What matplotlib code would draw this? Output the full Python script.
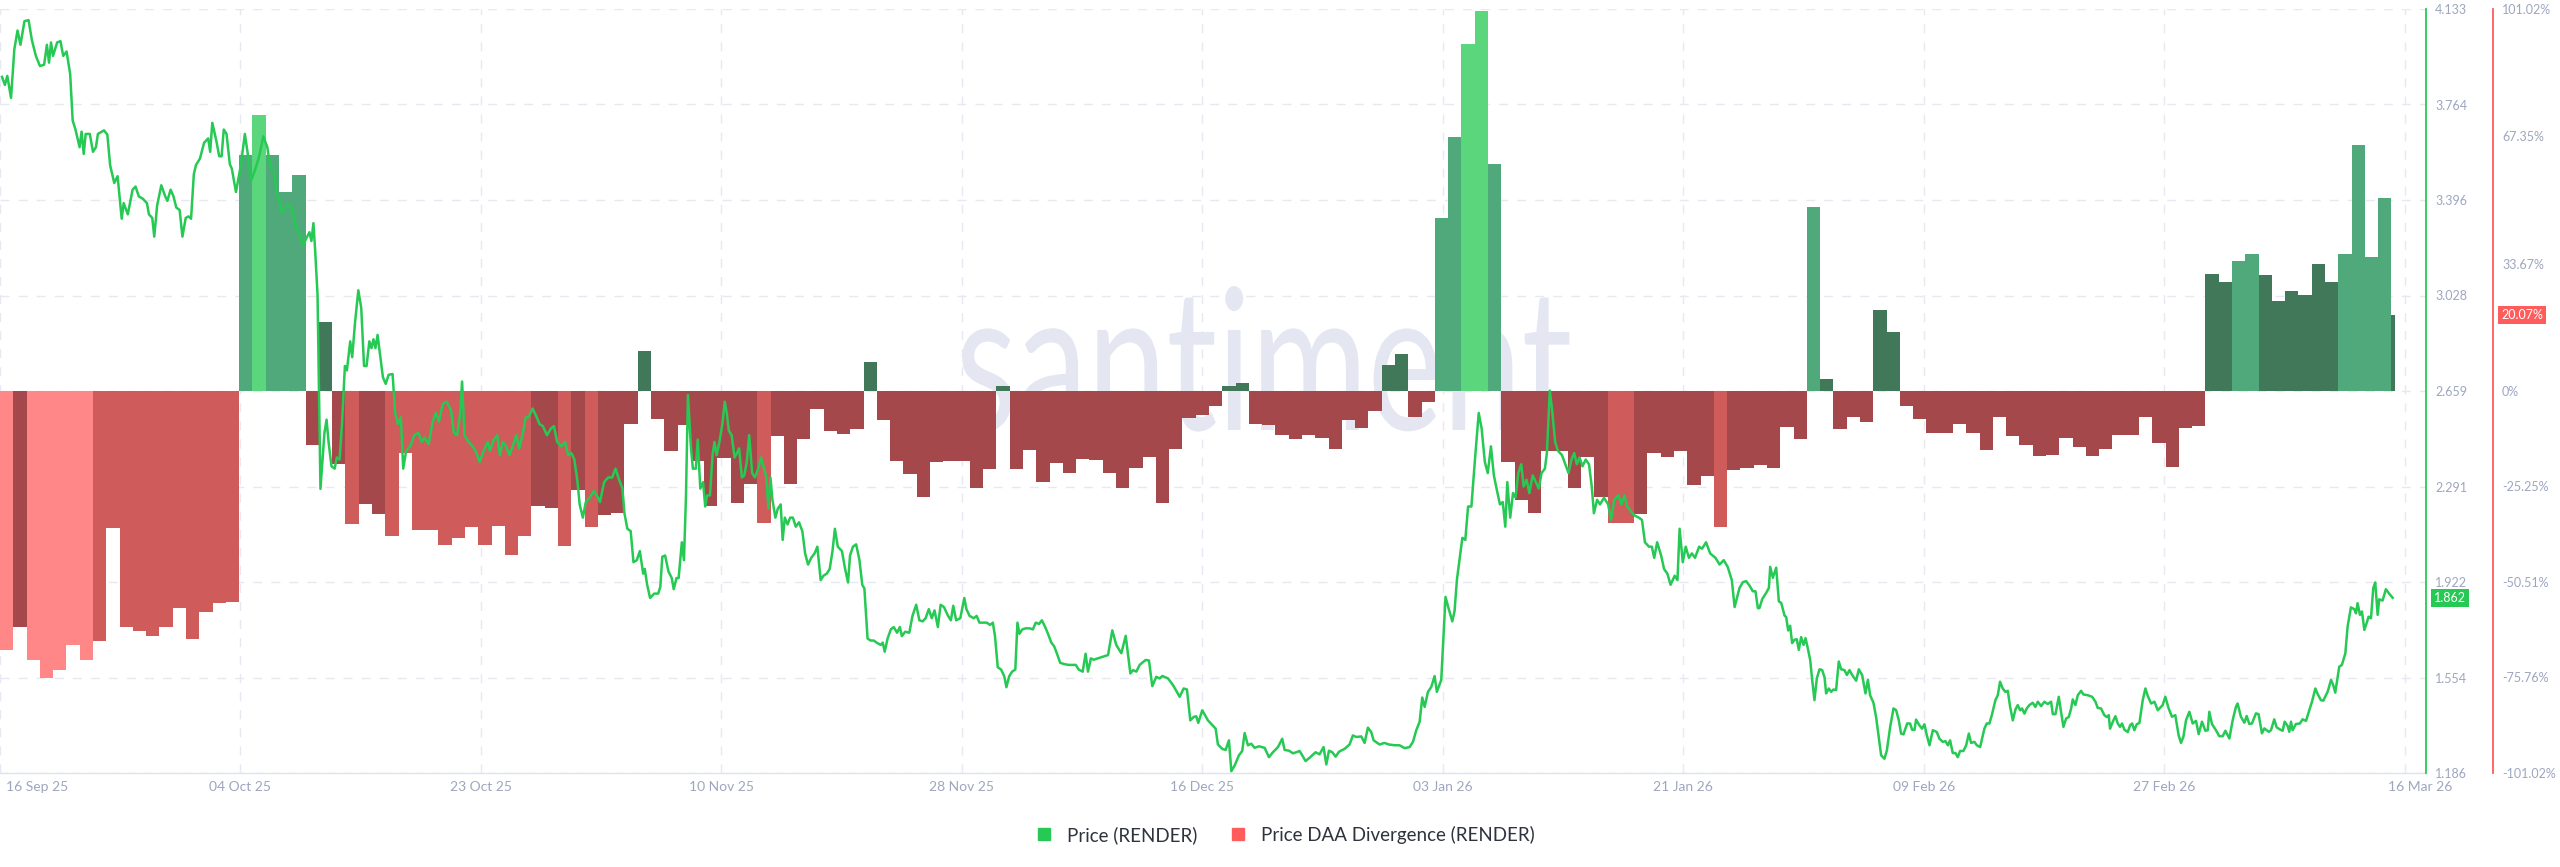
import numpy as np
import matplotlib
matplotlib.use("Agg")
import matplotlib.pyplot as plt
from matplotlib.lines import Line2D
from matplotlib import transforms
from matplotlib.textpath import TextPath
from matplotlib.patches import PathPatch
from matplotlib.font_manager import FontProperties

plt.rcParams['font.family'] = ['Lato', 'DejaVu Sans']

# ---- data (days counted from 16 Sep 2025) ----
date_labels = ["16 Sep 25", "04 Oct 25", "23 Oct 25", "10 Nov 25", "28 Nov 25", "16 Dec 25",
               "03 Jan 26", "21 Jan 26", "09 Feb 26", "27 Feb 26", "16 Mar 26"]
price_ticks = [4.133, 3.764, 3.396, 3.028, 2.659, 2.291, 1.922, 1.554, 1.186]
pct_ticks = [101.02, 67.35, 33.67, 0, -25.25, -50.51, -75.76, -101.02]

# daily Price DAA Divergence (%), last day is partial
div_pct = [
    -68.6, -62.3, -71.2, -75.8, -73.8, -67.3, -71.2, -66.1, -36.1, -62.3,
    -63.5, -64.7, -62.5, -57.5, -65.6, -58.4, -56.1, -55.7, 62.4, 73.0,
    62.5, 52.6, 57.0, -14.3, 18.2, -19.2, -35.2, -29.9, -32.6, -38.4,
    -16.5, -36.7, -36.7, -40.6, -38.8, -36.0, -40.7, -35.8, -43.4, -38.4,
    -30.4, -31.0, -41.1, -26.3, -36.0, -32.8, -32.2, -8.6, 10.6, -7.4,
    -15.9, -8.9, -18.6, -30.4, -17.7, -29.6, -24.5, -34.9, -11.9, -24.5,
    -12.7, -4.8, -10.7, -11.4, -10.1, 7.7, -7.8, -18.6, -21.9, -28.1,
    -18.9, -18.6, -18.6, -25.7, -20.6, 1.4, -20.6, -15.5, -24.0, -19.0,
    -21.8, -18.1, -18.3, -21.6, -25.7, -20.4, -17.5, -29.5, -15.3, -7.1,
    -6.3, -3.9, 1.2, 2.0, -8.6, -8.9, -11.6, -12.7, -11.6, -12.5,
    -15.3, -7.7, -9.8, -5.3, 7.0, 9.7, -6.8, -3.0, 45.7, 67.1,
    91.7, 100.6, 60.1, -18.9, -28.9, -32.2, -15.9, -15.9, -25.7, -17.5,
    -28.1, -34.8, -34.8, -32.6, -16.5, -17.5, -15.9, -24.9, -22.5, -36.0,
    -20.8, -20.4, -19.6, -20.4, -9.4, -12.7, 48.6, 3.2, -10.0, -6.8,
    -8.3, 21.5, 15.6, -3.9, -7.4, -11.2, -11.0, -8.6, -11.2, -15.7,
    -6.8, -11.8, -14.3, -17.1, -16.9, -12.4, -14.8, -17.1, -15.3, -11.6,
    -11.6, -6.8, -13.7, -20.1, -9.8, -9.2, 30.9, 28.8, 34.5, 36.2,
    30.6, 23.8, 26.4, 25.3, 33.6, 28.8, 36.2, 65.1, 35.4, 51.0,
    20.07,
]
# bar shade per day: L light, M medium, D dark
div_shade = ("LDLLLLLMMM" "MMMMMMMMML" "MMMDDDMDDM" "MMMMMMMMMM" "DDMDMDDDDD"
             "DDDDDDDMDD" "DDDDDDDDDD" "DDDDDDDDDD" "DDDDDDDDDD" "DDDDDDDDDD"
             "DDDDDDDDMM" "LLMDDDDDDD" "DMMDDDDDDM" "DDDDDDMDDD" "DDDDDDDDDD"
             "DDDDDDDDDD" "DDDDDDDDMM" "DDDDDDMMMM" "D")
last_day_fraction = 0.3

# price (USD) samples: (day, price)
price_points = [
    (0.15, 3.871), (0.37, 3.84), (0.55, 3.875), (0.83, 3.79), (1.08, 3.978), (1.32, 4.05), (1.54, 3.995),
    (1.84, 4.086), (2.15, 4.09), (2.40, 4.013), (2.70, 3.952), (3.01, 3.913), (3.32, 3.918), (3.53, 3.995),
    (3.69, 3.926), (3.84, 4.004), (3.99, 3.952), (4.30, 4.004), (4.55, 4.009), (4.76, 3.952), (5.01, 3.969),
    (5.28, 3.883), (5.47, 3.703), (5.68, 3.668), (5.99, 3.60), (6.14, 3.66), (6.30, 3.574), (6.45, 3.651),
    (6.76, 3.651), (7.00, 3.582), (7.22, 3.60), (7.37, 3.651), (7.83, 3.665), (8.08, 3.648), (8.29, 3.53),
    (8.60, 3.462), (8.85, 3.488), (9.16, 3.324), (9.31, 3.384), (9.62, 3.341), (9.98, 3.436), (10.20, 3.448),
    (10.45, 3.41), (10.75, 3.401), (11.06, 3.384), (11.21, 3.341), (11.46, 3.327), (11.61, 3.255), (11.83, 3.376),
    (12.14, 3.453), (12.44, 3.41), (12.60, 3.393), (12.84, 3.436), (13.06, 3.41), (13.27, 3.367), (13.52, 3.358),
    (13.73, 3.255), (13.98, 3.327), (14.19, 3.333), (14.38, 3.324), (14.59, 3.496), (14.75, 3.531), (15.05, 3.556),
    (15.36, 3.617), (15.67, 3.634), (15.82, 3.582), (15.98, 3.694), (16.28, 3.625), (16.50, 3.565), (16.68, 3.565),
    (16.84, 3.668), (17.05, 3.651), (17.30, 3.534), (17.45, 3.517), (17.76, 3.427), (18.13, 3.531), (18.43, 3.651),
    (18.65, 3.574), (18.89, 3.47), (19.20, 3.513), (19.51, 3.565), (19.82, 3.642), (20.12, 3.60), (20.34, 3.522),
    (20.65, 3.513), (20.80, 3.427), (21.04, 3.393), (21.20, 3.35), (21.44, 3.367), (21.81, 3.375), (22.06, 3.35),
    (22.27, 3.29), (22.58, 3.264), (22.80, 3.221), (23.04, 3.247), (23.29, 3.272), (23.44, 3.238), (23.59, 3.307),
    (23.72, 3.203), (23.90, 3.031), (24.12, 2.282), (24.42, 2.498), (24.58, 2.549), (24.73, 2.463), (24.95, 2.369),
    (25.19, 2.36), (25.35, 2.403), (25.56, 2.395), (25.74, 2.532), (25.96, 2.756), (26.11, 2.739), (26.36, 2.851),
    (26.51, 2.79), (26.73, 2.928), (26.97, 3.048), (27.19, 2.98), (27.40, 2.756), (27.59, 2.756), (27.80, 2.851),
    (27.96, 2.825), (28.11, 2.859), (28.26, 2.825), (28.42, 2.876), (28.63, 2.79), (28.82, 2.713), (29.03, 2.687),
    (29.25, 2.722), (29.55, 2.725), (29.74, 2.575), (29.95, 2.532), (30.17, 2.558), (30.35, 2.36), (30.57, 2.429),
    (30.88, 2.446), (31.18, 2.489), (31.49, 2.498), (31.74, 2.463), (31.95, 2.48), (32.26, 2.455), (32.57, 2.541),
    (32.81, 2.575), (33.03, 2.541), (33.33, 2.61), (33.64, 2.618), (33.95, 2.584), (34.16, 2.498), (34.41, 2.489),
    (34.62, 2.567), (34.78, 2.696), (34.96, 2.489), (35.27, 2.463), (35.58, 2.446), (35.79, 2.429), (36.10, 2.386),
    (36.41, 2.429), (36.71, 2.463), (36.87, 2.429), (37.17, 2.472), (37.42, 2.489), (37.63, 2.412), (37.85, 2.463),
    (38.10, 2.446), (38.34, 2.412), (38.65, 2.455), (38.86, 2.489), (39.08, 2.438), (39.39, 2.506), (39.57, 2.558),
    (39.78, 2.558), (40.09, 2.592), (40.40, 2.558), (40.61, 2.532), (40.86, 2.524), (41.17, 2.489), (41.47, 2.515),
    (41.69, 2.524), (41.94, 2.463), (42.24, 2.446), (42.55, 2.463), (42.76, 2.412), (43.01, 2.42), (43.23, 2.395),
    (43.47, 2.308), (43.63, 2.222), (43.87, 2.171), (44.09, 2.231), (44.39, 2.248), (44.70, 2.274), (45.01, 2.248),
    (45.16, 2.231), (45.47, 2.308), (45.78, 2.326), (46.08, 2.326), (46.33, 2.36), (46.54, 2.326), (46.85, 2.283),
    (47.00, 2.188), (47.22, 2.128), (47.47, 2.119), (47.68, 1.999), (47.93, 2.007),
    (48.16, 2.042), (48.41, 1.955), (48.53, 1.973), (48.71, 1.912), (48.93, 1.861), (49.24, 1.878), (49.54, 1.878),
    (49.70, 1.904), (49.85, 2.02), (50.06, 2.025), (50.31, 1.964), (50.56, 1.938), (50.71, 1.895), (50.92, 1.938),
    (51.08, 1.938), (51.32, 2.076), (51.48, 2.007), (51.63, 2.25), (51.78, 2.644), (52.00, 2.446), (52.15, 2.36),
    (52.37, 2.36), (52.52, 2.472), (52.71, 2.283), (52.92, 2.308), (53.08, 2.214), (53.23, 2.257), (53.44, 2.257),
    (53.63, 2.412), (53.78, 2.463), (53.94, 2.412), (54.15, 2.463), (54.37, 2.532), (54.55, 2.618), (54.70, 2.575),
    (54.86, 2.506), (55.07, 2.489), (55.29, 2.403), (55.47, 2.42), (55.63, 2.438), (55.84, 2.326), (56.02, 2.334),
    (56.21, 2.386), (56.39, 2.489), (56.61, 2.343), (56.82, 2.326), (57.07, 2.36), (57.28, 2.403), (57.47, 2.369),
    (57.68, 2.326), (57.84, 2.205), (57.99, 2.326), (58.14, 2.24), (58.36, 2.171), (58.54, 2.205), (58.76, 2.222),
    (58.91, 2.085), (59.07, 2.171), (59.28, 2.145), (59.47, 2.171), (59.68, 2.171), (59.90, 2.136), (60.14, 2.153),
    (60.39, 2.119), (60.60, 2.033), (60.82, 1.99), (61.06, 2.016), (61.31, 2.033), (61.52, 2.059), (61.77, 1.93),
    (61.98, 1.947), (62.23, 1.955), (62.45, 1.973), (62.66, 2.042), (62.84, 2.128), (63.06, 2.059), (63.37, 2.042),
    (63.61, 1.973), (63.83, 1.921), (63.98, 2.025), (64.20, 2.059), (64.44, 2.068), (64.69, 2.007), (64.90, 1.912),
    (65.06, 1.898), (65.30, 1.705), (65.52, 1.697), (65.76, 1.697), (65.98, 1.689), (66.29, 1.68), (66.44, 1.689),
    (66.59, 1.654), (66.81, 1.705), (67.05, 1.74), (67.27, 1.749), (67.52, 1.727), (67.73, 1.749), (67.88, 1.714),
    (68.13, 1.731), (68.44, 1.727), (68.68, 1.792), (68.96, 1.835), (69.20, 1.775), (69.45, 1.771), (69.67, 1.783),
    (69.91, 1.818), (70.13, 1.783), (70.34, 1.813), (70.59, 1.749), (70.80, 1.835), (71.05, 1.826), (71.36, 1.792),
    (71.57, 1.775), (71.75, 1.831), (71.97, 1.775), (72.28, 1.783), (72.58, 1.861), (72.74, 1.818), (72.98, 1.792),
    (73.29, 1.783), (73.51, 1.792), (73.72, 1.766), (73.97, 1.766), (74.27, 1.766), (74.52, 1.757), (74.73, 1.766),
    (74.89, 1.714), (75.10, 1.594), (75.35, 1.585), (75.59, 1.559), (75.75, 1.517), (75.96, 1.559), (76.18, 1.577),
    (76.42, 1.585), (76.58, 1.766), (76.73, 1.723), (76.95, 1.74), (77.19, 1.744), (77.50, 1.744), (77.74, 1.74),
    (77.96, 1.766), (78.21, 1.761), (78.42, 1.775), (78.67, 1.749), (78.88, 1.723), (79.13, 1.689), (79.34, 1.675),
    (79.56, 1.646), (79.80, 1.611), (80.11, 1.606), (80.42, 1.603), (80.72, 1.603), (80.97, 1.603), (81.19, 1.585),
    (81.49, 1.577), (81.71, 1.646), (81.89, 1.577), (82.11, 1.628), (82.32, 1.623),
    (83.40, 1.641), (83.72, 1.736), (84.02, 1.680), (84.40, 1.648), (84.73, 1.715), (85.08, 1.570), (85.28, 1.583),
    (85.53, 1.577), (85.78, 1.603), (86.23, 1.622), (86.48, 1.620), (86.73, 1.521), (87.03, 1.557), (87.28, 1.551),
    (87.49, 1.560), (87.91, 1.551), (88.29, 1.525), (88.79, 1.480), (89.09, 1.512), (89.34, 1.508), (89.59, 1.389),
    (89.84, 1.402), (90.04, 1.405), (90.19, 1.379), (90.49, 1.428), (90.92, 1.389), (91.50, 1.357), (91.67, 1.296),
    (92.00, 1.279), (92.25, 1.275), (92.50, 1.312), (92.68, 1.193), (92.93, 1.215), (93.25, 1.254), (93.50, 1.271),
    (93.68, 1.340), (93.93, 1.293), (94.18, 1.299), (94.43, 1.283), (94.76, 1.289), (95.19, 1.283), (95.51, 1.247),
    (95.81, 1.266), (96.19, 1.286), (96.51, 1.318), (96.69, 1.275), (97.02, 1.272), (97.32, 1.262), (97.57, 1.266),
    (97.82, 1.271), (98.27, 1.232), (98.62, 1.247), (99.02, 1.266), (99.32, 1.258), (99.62, 1.286), (99.83, 1.219),
    (100.03, 1.272), (100.28, 1.266), (100.53, 1.249), (100.78, 1.268), (101.20, 1.279), (101.58, 1.296),
    (101.83, 1.331), (102.08, 1.325), (102.46, 1.327), (102.71, 1.302), (102.96, 1.361), (103.21, 1.344),
    (103.39, 1.312), (103.84, 1.296), (104.21, 1.302), (104.54, 1.296), (104.97, 1.293), (105.34, 1.293),
    (105.72, 1.282), (106.10, 1.286), (106.35, 1.306), (106.60, 1.351), (106.85, 1.383), (107.05, 1.477),
    (107.23, 1.441), (107.48, 1.499), (107.73, 1.518), (107.98, 1.560), (108.15, 1.499), (108.48, 1.545),
    (108.80, 1.865), (109.06, 1.816), (109.31, 1.771), (109.48, 1.810), (109.66, 1.932), (109.86, 2.010),
    (110.07, 2.093), (110.29, 2.085), (110.50, 2.214), (110.75, 2.214), (110.99, 2.377), (111.30, 2.575),
    (111.52, 2.515), (111.76, 2.386), (111.98, 2.343), (112.22, 2.446), (112.44, 2.334), (112.68, 2.274),
    (112.90, 2.222), (113.11, 2.231), (113.30, 2.136), (113.45, 2.308), (113.67, 2.171), (113.88, 2.266),
    (114.07, 2.248), (114.28, 2.343), (114.50, 2.377), (114.68, 2.291), (114.90, 2.317), (115.11, 2.266),
    (115.36, 2.334), (115.60, 2.308), (115.82, 2.283), (116.03, 2.343), (116.28, 2.36), (116.43, 2.42),
    (116.65, 2.661), (116.83, 2.584), (117.05, 2.463), (117.26, 2.429), (117.57, 2.412), (117.82, 2.377),
    (118.06, 2.343), (118.28, 2.395), (118.49, 2.42), (118.68, 2.377), (118.89, 2.403), (119.11, 2.369),
    (119.35, 2.395), (119.60, 2.377), (119.81, 2.291), (119.97, 2.188), (120.21, 2.24), (120.43, 2.222),
    (120.73, 2.248), (121.04, 2.222), (121.26, 2.162), (121.50, 2.24), (121.81, 2.257), (122.05, 2.222),
    (122.27, 2.257), (122.48, 2.214), (122.73, 2.197), (123.04, 2.179), (123.35, 2.171), (123.59, 2.162),
    (123.81, 2.076), (124.11, 2.059), (124.33, 2.059), (124.51, 2.016), (124.73, 2.076), (125.03, 2.025),
    (125.25, 1.973), (125.50, 1.955), (125.74, 1.912), (126.05, 1.947), (126.26, 1.93), (126.42, 2.128),
    (126.66, 1.999), (126.88, 2.059), (127.12, 2.016), (127.34, 2.033), (127.58, 2.016), (127.89, 2.059),
    (128.11, 2.051), (128.41, 2.076), (128.72, 2.033), (129.12, 2.016), (129.43, 1.99), (129.74, 2.007),
    (130.04, 1.981), (130.35, 1.93), (130.56, 1.826),
    (130.93, 1.900), (131.18, 1.922), (131.43, 1.926), (131.68, 1.909), (131.93, 1.887), (132.13, 1.887),
    (132.31, 1.822), (132.43, 1.822), (132.64, 1.857), (132.94, 1.881), (133.14, 1.900), (133.24, 1.981),
    (133.44, 1.939), (133.69, 1.978), (133.89, 1.848), (134.07, 1.842), (134.32, 1.793), (134.44, 1.788),
    (134.59, 1.736), (134.74, 1.754), (134.89, 1.687), (135.07, 1.700), (135.24, 1.702), (135.39, 1.661),
    (135.57, 1.710), (135.75, 1.680), (135.90, 1.706), (136.07, 1.667), (136.25, 1.622), (136.40, 1.545),
    (136.57, 1.467), (136.75, 1.551), (136.95, 1.586), (137.15, 1.583), (137.33, 1.555), (137.45, 1.493),
    (137.65, 1.512), (137.83, 1.499), (138.00, 1.508), (138.20, 1.506), (138.40, 1.616), (138.58, 1.586),
    (138.83, 1.583), (139.01, 1.564), (139.21, 1.583), (139.41, 1.564), (139.71, 1.542), (139.91, 1.586),
    (140.16, 1.564), (140.41, 1.493), (140.59, 1.545), (140.76, 1.486), (141.01, 1.457), (141.21, 1.402),
    (141.41, 1.325), (141.59, 1.254), (141.84, 1.241), (142.02, 1.273), (142.27, 1.364), (142.52, 1.435),
    (142.72, 1.428), (142.92, 1.389), (143.09, 1.338), (143.27, 1.335), (143.55, 1.377), (143.77, 1.377),
    (143.92, 1.353), (144.10, 1.352), (144.22, 1.392), (144.47, 1.370), (144.67, 1.357), (144.85, 1.374),
    (145.03, 1.331), (145.23, 1.293), (145.48, 1.351), (145.78, 1.344), (145.98, 1.318), (146.23, 1.306),
    (146.43, 1.309), (146.61, 1.293), (146.78, 1.312), (146.98, 1.263), (147.18, 1.263), (147.36, 1.247),
    (147.53, 1.271), (147.78, 1.271), (147.99, 1.293), (148.19, 1.338), (148.36, 1.302), (148.61, 1.306),
    (148.79, 1.293), (149.04, 1.286), (149.36, 1.357), (149.54, 1.377), (149.74, 1.377), (149.94, 1.413),
    (150.19, 1.467), (150.37, 1.486), (150.54, 1.538), (150.74, 1.512), (150.94, 1.499), (151.12, 1.503),
    (151.30, 1.441), (151.50, 1.389), (151.70, 1.431), (151.87, 1.448), (152.05, 1.428), (152.20, 1.435),
    (152.37, 1.415), (152.55, 1.435), (152.75, 1.448), (153.00, 1.457), (153.20, 1.441), (153.38, 1.461),
    (153.63, 1.444), (153.88, 1.461), (154.13, 1.452), (154.38, 1.461), (154.51, 1.413), (154.71, 1.413),
    (154.96, 1.480), (155.13, 1.422), (155.31, 1.364), (155.51, 1.396), (155.71, 1.402), (155.89, 1.435),
    (156.01, 1.470), (156.21, 1.448), (156.39, 1.486), (156.64, 1.503), (156.81, 1.489), (157.14, 1.486),
    (157.47, 1.480), (157.72, 1.461), (157.89, 1.437), (158.14, 1.435), (158.39, 1.409), (158.57, 1.402),
    (158.72, 1.409), (158.82, 1.357), (159.02, 1.383), (159.22, 1.405), (159.40, 1.377), (159.57, 1.364),
    (159.72, 1.377), (159.90, 1.353), (160.15, 1.344), (160.33, 1.370), (160.48, 1.377), (160.65, 1.351),
    (160.83, 1.374), (161.03, 1.379), (161.28, 1.467), (161.48, 1.512), (161.66, 1.483), (161.91, 1.454),
    (162.16, 1.461), (162.41, 1.428),
    (162.78, 1.448), (162.98, 1.480), (163.23, 1.435), (163.48, 1.403), (163.73, 1.409), (163.98, 1.332),
    (164.16, 1.302), (164.34, 1.326), (164.54, 1.390), (164.79, 1.422), (165.04, 1.377), (165.29, 1.387),
    (165.49, 1.336), (165.74, 1.384), (165.99, 1.349), (166.17, 1.351), (166.29, 1.422), (166.49, 1.375),
    (166.79, 1.351), (167.04, 1.328), (167.30, 1.328), (167.50, 1.349), (167.80, 1.319), (168.05, 1.390),
    (168.30, 1.442), (168.42, 1.454), (168.67, 1.403), (168.93, 1.380), (169.10, 1.406), (169.30, 1.375),
    (169.50, 1.377), (169.80, 1.416), (170.00, 1.413), (170.25, 1.339), (170.43, 1.358), (170.76, 1.345),
    (170.93, 1.351), (171.18, 1.393), (171.36, 1.362), (171.61, 1.354), (171.81, 1.349), (171.96, 1.384),
    (172.19, 1.367), (172.31, 1.345), (172.44, 1.384), (172.56, 1.351), (172.81, 1.375), (173.11, 1.377),
    (173.31, 1.393), (173.57, 1.387), (173.82, 1.429), (174.02, 1.461), (174.27, 1.512), (174.44, 1.491),
    (174.69, 1.467), (174.87, 1.465), (175.20, 1.500), (175.45, 1.545), (175.62, 1.525), (175.77, 1.496),
    (176.07, 1.596), (176.27, 1.603), (176.53, 1.648), (176.70, 1.751), (176.95, 1.825), (177.20, 1.818),
    (177.33, 1.802), (177.45, 1.841), (177.63, 1.796), (177.78, 1.809), (177.96, 1.738), (178.13, 1.764),
    (178.28, 1.789), (178.46, 1.783), (178.63, 1.899), (178.78, 1.921), (178.96, 1.796), (179.08, 1.856),
    (179.33, 1.851), (179.58, 1.895), (179.84, 1.877), (180.09, 1.862),
]

# ---- styling ----
GREEN_LINE = "#26c953"
RED_AXIS = "#ff5c5c"
TEXT_GREY = "#9ea6bf"
GRID = "#e6e9f2"
red_shades = {"L": "#ff8787", "M": "#cf5b5b", "D": "#a5484b"}
green_shades = {"L": "#5bd67c", "M": "#4fa97b", "D": "#417859"}

W, H = 2560, 867
fig = plt.figure(figsize=(W / 100, H / 100), dpi=100)
fig.patch.set_facecolor("white")

ax = fig.add_axes([0, 94 / H, 2426 / W, 764 / H])
ax_p = ax.twinx()
ax_pct = ax.twinx()

# divergence bars
days = np.arange(len(div_pct))
widths = np.ones(len(div_pct))
widths[-1] = last_day_fraction
colors = [(green_shades if v > 0 else red_shades)[s] for v, s in zip(div_pct, div_shade)]
ax.bar(days, div_pct, width=widths, align="edge", color=colors, linewidth=0, zorder=2)
ax.set_ylim(-101.02, 101.02)
ax.set_xlim(0, 182.6)

# grid on the price levels
ax.set_yticks(np.linspace(-101.02, 101.02, len(price_ticks)))
ax.tick_params(axis="y", left=False, labelleft=False)
ax.set_xticks(np.linspace(0, 181, len(date_labels)))
ax.set_xticklabels(date_labels)
ax.tick_params(axis="x", length=0, pad=6, labelsize=10, labelcolor=TEXT_GREY)
ax.grid(True, color=GRID, linewidth=1.0, linestyle=(0, (6.5, 6.5)))
ax.set_axisbelow(True)
for s in ["left", "top", "right"]:
    ax.spines[s].set_visible(False)
ax.spines["bottom"].set_color("#dfe3ec")
ax.spines["bottom"].set_linewidth(1.0)

xl = ax.get_xticklabels()
xl[0].set_ha("left")
xl[0].set_transform(xl[0].get_transform() + transforms.ScaledTranslation(0.06, 0, fig.dpi_scale_trans))
xl[-1].set_transform(xl[-1].get_transform() + transforms.ScaledTranslation(0.15, 0, fig.dpi_scale_trans))

# watermark (stretched text path, pixel placement)
wm = TextPath((0, 0), ".santiment.", size=1, prop=FontProperties(family="Lato"))
ext = wm.get_extents()
wm_tr = (transforms.Affine2D().translate(-ext.x0, 0)
         .scale(668 / ext.width, 100 / 0.5065).translate(930, H - 430))
ax.add_artist(PathPatch(wm, transform=wm_tr, facecolor="#e4e7f1", edgecolor="none", zorder=1))

# price line
pd_days, pd_vals = zip(*price_points)
ax_p.plot(pd_days, pd_vals, color=GREEN_LINE, linewidth=1.8, zorder=3)
ax_p.set_ylim(price_ticks[-1], price_ticks[0])
ax_p.set_yticks(price_ticks)
ax_p.set_yticklabels([f"{t:.3f}" for t in price_ticks])
ax_p.tick_params(axis="y", length=0, pad=6.5, labelsize=9, labelcolor=TEXT_GREY)
for s in ["left", "top", "bottom"]:
    ax_p.spines[s].set_visible(False)
ax_p.spines["right"].set_color(GREEN_LINE)
ax_p.spines["right"].set_linewidth(1.3)

# percent axis
ax_pct.set_ylim(-101.02, 101.02)
ax_pct.set_yticks(pct_ticks)
ax_pct.set_yticklabels([f"{t:g}%" if t == 0 else f"{t:.2f}%" for t in pct_ticks])
ax_pct.spines["right"].set_position(("outward", 48.2))
ax_pct.tick_params(axis="y", length=0, pad=6.5, labelsize=9, labelcolor=TEXT_GREY)
for s in ["left", "top", "bottom"]:
    ax_pct.spines[s].set_visible(False)
ax_pct.spines["right"].set_color(RED_AXIS)
ax_pct.spines["right"].set_linewidth(1.3)

# last value badges
tp = transforms.blended_transform_factory(ax_p.transAxes, ax_p.transData)
ax_p.text(1.0, pd_vals[-1], f"{pd_vals[-1]:.3f}",
          transform=tp + transforms.ScaledTranslation(0.08, 0, fig.dpi_scale_trans),
          ha="left", va="center", fontsize=9, color="white", clip_on=False, zorder=5,
          bbox=dict(boxstyle="square,pad=0.25", fc=GREEN_LINE, ec="none"))
tq = transforms.blended_transform_factory(ax_pct.transAxes, ax_pct.transData)
ax_pct.text(1.0, div_pct[-1], f"{div_pct[-1]:.2f}%",
            transform=tq + transforms.ScaledTranslation(0.75, 0, fig.dpi_scale_trans),
            ha="left", va="center", fontsize=9, color="white", clip_on=False, zorder=5,
            bbox=dict(boxstyle="square,pad=0.25", fc=RED_AXIS, ec="none"))

# legend
handles = [Line2D([], [], marker="s", ls="none", color=GREEN_LINE, markersize=8),
           Line2D([], [], marker="s", ls="none", color=RED_AXIS, markersize=8)]
fig.legend(handles, ["Price (RENDER)", "Price DAA Divergence (RENDER)"], loc="center",
           bbox_to_anchor=(0.5, 1 - 835 / H), ncol=2, frameon=False, fontsize=13.5,
           handletextpad=0.2, columnspacing=1.2, labelcolor="#2f333d")

fig.savefig("out.png", dpi=100, facecolor="white")
